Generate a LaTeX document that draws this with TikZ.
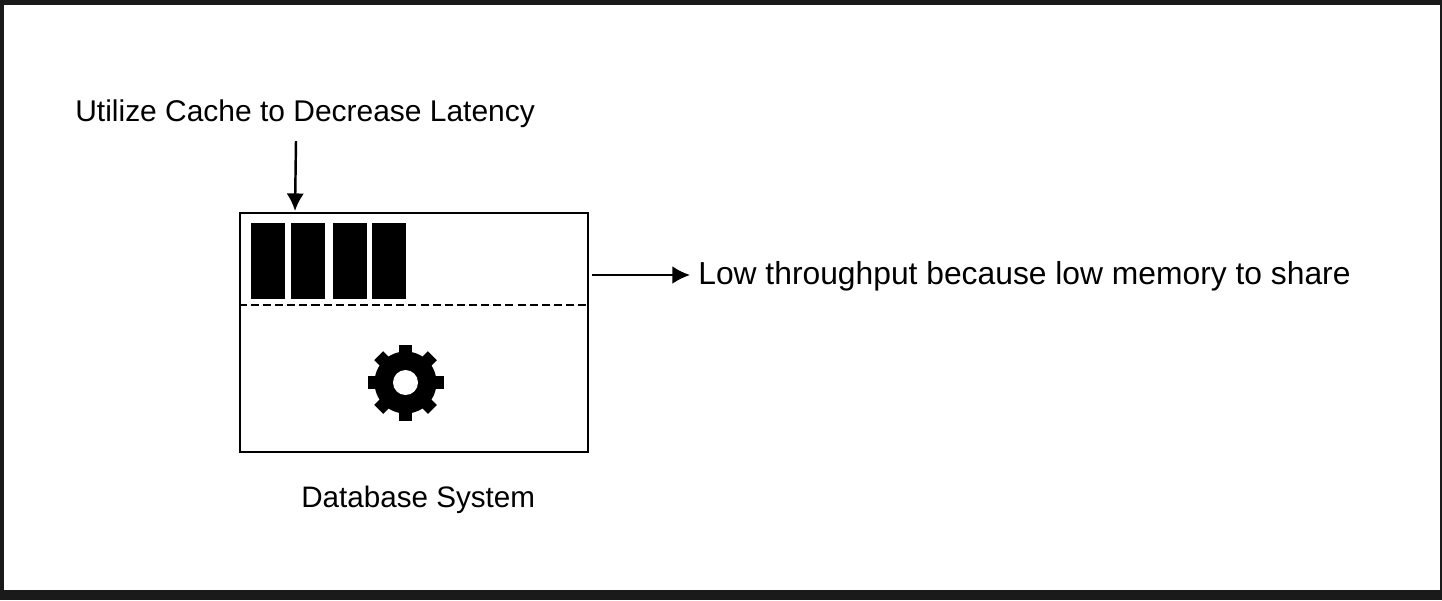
\documentclass[tikz,border=0pt]{standalone}
\usepackage{fontspec}
\setmainfont{Liberation Sans}
\usetikzlibrary{arrows.meta}
\definecolor{frame}{HTML}{1A1A1A}
\tikzstyle{label}=[inner sep=0pt,anchor=base west,text=black]
\tikzstyle{system}=[rectangle,draw,line width=1.5pt,minimum width=348*0.02cm,minimum height=239*0.02cm,inner sep=0pt]
\tikzstyle{bar}=[rectangle,fill=black,draw=black,minimum width=33*0.02cm,minimum height=75*0.02cm,inner sep=0pt,line width=0.3pt]
\tikzstyle{tooth}=[rectangle,fill=black,minimum width=12.7*0.02cm,minimum height=76*0.02cm,inner sep=0pt]
\tikzstyle{link}=[-{Latex[length=10pt,width=10pt]}]
\begin{document}
\begin{tikzpicture}[x=0.02cm,y=-0.02cm]

  % page
  \fill[frame] (0,0) rectangle (1442,600);
  \fill[white] (4,5) rectangle (1440,590);
  \useasboundingbox (0,0) rectangle (1442,600);

  \node[system] (D) at (414,332.5) {};
  \node[bar] (B1) at (267.5,260.5) {};
  \node[bar] (B2) at (308,260.5) {};
  \node[bar] (B3) at (350,260.5) {};
  \node[bar] (B4) at (389,260.5) {};
  \draw[line width=1.3pt,dash pattern=on 4.6pt off 2.3pt] (D.west |- 0,305)--(D.east |- 0,305);

  % the gear
  \foreach \a in {0,45,90,135} \node[tooth,rotate=\a] (T\a) at (405.5,382.5) {};
  \node[circle,fill=black,minimum size=62*0.02cm,inner sep=0pt] (G) at (405.5,382.5) {};
  \node[circle,fill=white,minimum size=25*0.02cm,inner sep=0pt] (H) at (405.5,382.5) {};

  \node[label,font=\fontsize{17.05pt}{20pt}\selectfont] (C) at (75,121) {Utilize Cache to Decrease Latency};
  \node[label,font=\fontsize{18.1pt}{21pt}\selectfont] (L) at (698,284) {Low throughput because low memory to share};
  \node[label,font=\fontsize{16.85pt}{20pt}\selectfont] (S) at (301,507) {Database System};

  \coordinate (A1) at (296,141);
  \coordinate (A2) at (295,211);
  \coordinate (A3) at (592,275);
  \coordinate (A4) at (690,275);
  \draw[link,line width=1.4pt] (A1)--(A2);
  \draw[link,line width=1.1pt] (A3)--(A4);

\end{tikzpicture}
\end{document}
